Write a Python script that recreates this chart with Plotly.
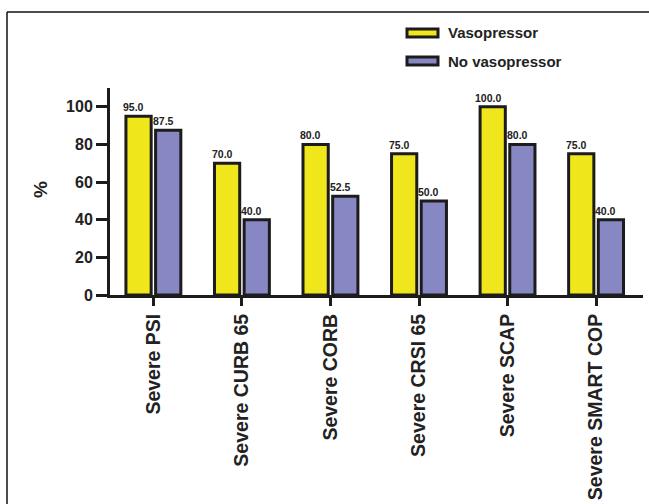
import plotly.graph_objects as go

categories = ["Severe PSI", "Severe CURB 65", "Severe CORB", "Severe CRSI 65", "Severe SCAP", "Severe SMART COP"]
series_names = ["Vasopressor", "No vasopressor"]
vasopressor = [95.0, 70.0, 80.0, 75.0, 100.0, 75.0]
no_vasopressor = [87.5, 40.0, 52.5, 50.0, 80.0, 40.0]
y_ticks = [0, 20, 40, 60, 80, 100]
y_title = "%"

colors = ["#F0E61C", "#8787C3"]
edge = "#1c1c1c"
FONT = "Liberation Sans, Arial, Helvetica, sans-serif"

W, H = 649, 504
L, R, T, B = 110, 6, 88, 209
pw, ph = W - L - R, H - T - B

idx = list(range(len(categories)))
bar_w = 0.285
offsets = [-0.31, 0.025]

fig = go.Figure()
for name, vals, col, off in zip(series_names, [vasopressor, no_vasopressor], colors, offsets):
    fig.add_trace(go.Bar(
        x=idx, y=vals, name=name, width=bar_w, offset=off,
        marker=dict(color=col, line=dict(color=edge, width=3)),
        showlegend=False, hoverinfo="skip",
    ))
    for i, v in zip(idx, vals):
        fig.add_annotation(
            x=i + off + bar_w / 2, y=v, xref="x", yref="y",
            text=f"{v:.1f}", showarrow=False, yanchor="bottom",
            xshift=-5, yshift=1,
            font=dict(family=FONT, size=10.5, color="#222", weight="bold"),
        )

# legend (custom swatches)
leg_y = [33, 61]
for name, col, py in zip(series_names, colors, leg_y):
    fig.add_shape(type="rect", xref="paper", yref="paper",
                  x0=(407 - L) / pw, x1=(438 - L) / pw,
                  y0=(H - B - (py + 4)) / ph, y1=(H - B - (py - 4)) / ph,
                  fillcolor=col, line=dict(color=edge, width=3))
    fig.add_annotation(xref="paper", yref="paper", x=(446 - L) / pw, y=(H - B - py) / ph,
                       text=name, showarrow=False, xanchor="left", yanchor="middle",
                       font=dict(family=FONT, size=15, color="#222", weight="bold"))

# y-axis title
fig.add_annotation(xref="paper", yref="paper", x=(40 - L) / pw, y=(H - B - 190) / ph,
                   text=y_title, showarrow=False, textangle=-90,
                   xanchor="center", yanchor="middle",
                   font=dict(family=FONT, size=19, color="#222", weight="bold"))

# outer frame (left and top edges)
fig.add_shape(type="line", xref="paper", yref="paper",
              x0=(7 - L) / pw, x1=(7 - L) / pw, y0=(H - B - 506) / ph, y1=(H - B - 12) / ph,
              line=dict(color="#111", width=1.5))
fig.add_shape(type="line", xref="paper", yref="paper",
              x0=(7 - L) / pw, x1=(652 - L) / pw, y0=(H - B - 12) / ph, y1=(H - B - 12) / ph,
              line=dict(color="#111", width=1.5))

fig.update_layout(
    width=W, height=H,
    margin=dict(l=L, r=R, t=T, b=B, autoexpand=False),
    paper_bgcolor="white", plot_bgcolor="white",
    barmode="overlay", hovermode=False,
    xaxis=dict(
        range=[-0.49, 5.53], tickmode="array", tickvals=idx, ticktext=categories,
        tickangle=-90, showgrid=False, zeroline=False, automargin=False,
        showline=True, linecolor=edge, linewidth=3,
        ticks="outside", ticklen=8, tickwidth=3, tickcolor=edge,
        tickfont=dict(family=FONT, size=19.5, color="#222", weight="bold"),
    ),
    yaxis=dict(
        range=[0, 110], tickvals=y_ticks, showgrid=False, zeroline=False, automargin=False,
        showline=True, linecolor=edge, linewidth=3,
        ticks="outside", ticklen=11, tickwidth=3, tickcolor=edge,
        tickfont=dict(family=FONT, size=16, color="#222", weight="bold"),
    ),
)

fig.write_html("out.html", config={"displayModeBar": False},
               post_script="document.body.style.margin='0';document.body.style.overflow='hidden';")
